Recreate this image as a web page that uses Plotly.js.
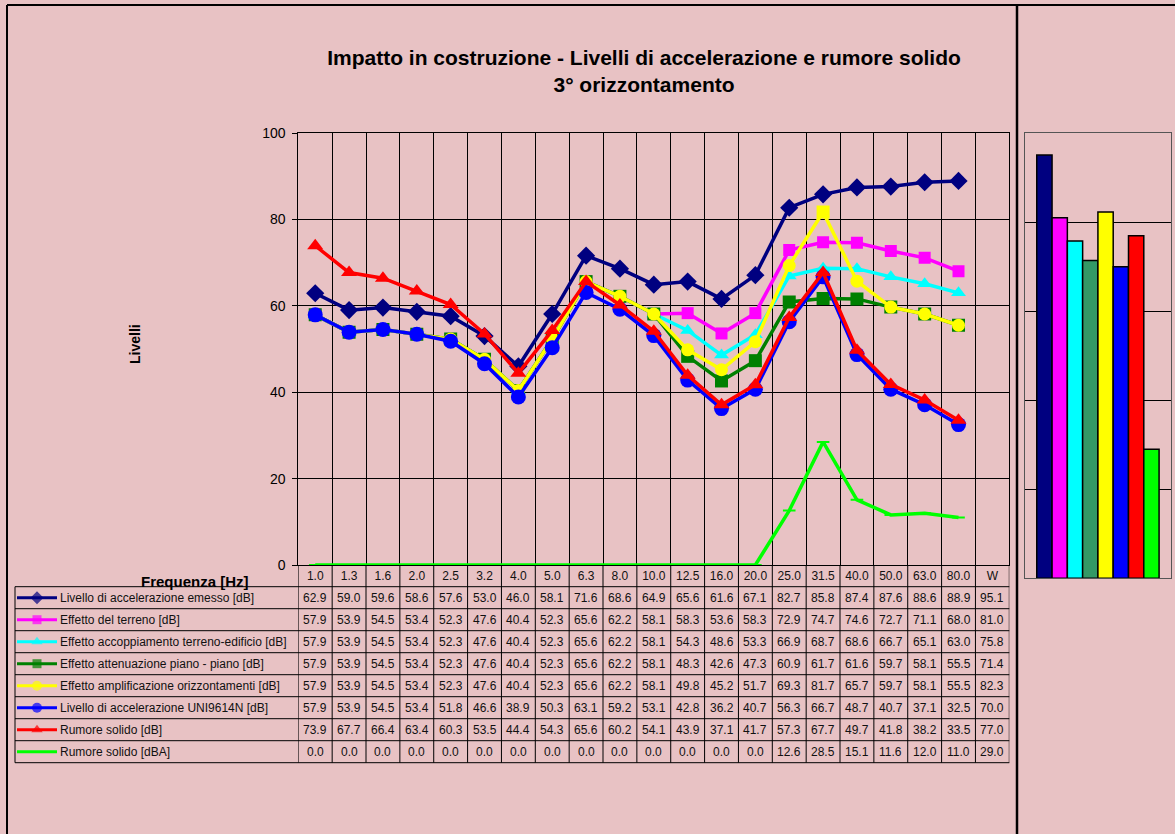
<!DOCTYPE html>
<html><head><meta charset="utf-8">
<script src="https://cdn.plot.ly/plotly-3.0.1.min.js"></script>
<style>html,body{margin:0;padding:0;background:#e8c2c4;}#chart{width:1175px;height:834px;}</style>
</head><body><div id="chart"></div>
<script>
const categories = ["1.0","1.3","1.6","2.0","2.5","3.2","4.0","5.0","6.3","8.0","10.0","12.5","16.0","20.0","25.0","31.5","40.0","50.0","63.0","80.0","W"];
const freqs = categories.slice(0, 20);
const seriesNames = [
  "Livello di accelerazione emesso [dB]",
  "Effetto del terreno [dB]",
  "Effetto accoppiamento terreno-edificio [dB]",
  "Effetto attenuazione piano - piano [dB]",
  "Effetto amplificazione orizzontamenti [dB]",
  "Livello di accelerazione UNI9614N [dB]",
  "Rumore solido [dB]",
  "Rumore solido [dBA]"
];
const emesso      = [62.9,59.0,59.6,58.6,57.6,53.0,46.0,58.1,71.6,68.6,64.9,65.6,61.6,67.1,82.7,85.8,87.4,87.6,88.6,88.9];
const terreno     = [57.9,53.9,54.5,53.4,52.3,47.6,40.4,52.3,65.6,62.2,58.1,58.3,53.6,58.3,72.9,74.7,74.6,72.7,71.1,68.0];
const accoppiam   = [57.9,53.9,54.5,53.4,52.3,47.6,40.4,52.3,65.6,62.2,58.1,54.3,48.6,53.3,66.9,68.7,68.6,66.7,65.1,63.0];
const attenuaz    = [57.9,53.9,54.5,53.4,52.3,47.6,40.4,52.3,65.6,62.2,58.1,48.3,42.6,47.3,60.9,61.7,61.6,59.7,58.1,55.5];
const amplific    = [57.9,53.9,54.5,53.4,52.3,47.6,40.4,52.3,65.6,62.2,58.1,49.8,45.2,51.7,69.3,81.7,65.7,59.7,58.1,55.5];
const uni9614     = [57.9,53.9,54.5,53.4,51.8,46.6,38.9,50.3,63.1,59.2,53.1,42.8,36.2,40.7,56.3,66.7,48.7,40.7,37.1,32.5];
const rumoreDB    = [73.9,67.7,66.4,63.4,60.3,53.5,44.4,54.3,65.6,60.2,54.1,43.9,37.1,41.7,57.3,67.7,49.7,41.8,38.2,33.5];
const rumoreDBA   = [0.0,0.0,0.0,0.0,0.0,0.0,0.0,0.0,0.0,0.0,0.0,0.0,0.0,0.0,12.6,28.5,15.1,11.6,12.0,11.0];
const totalsW     = [95.1,81.0,75.8,71.4,82.3,70.0,77.0,29.0];

const series = [emesso, terreno, accoppiam, attenuaz, amplific, uni9614, rumoreDB, rumoreDBA];
const lineColors = ["#000080","#ff00ff","#00ffff","#008000","#ffff00","#0000ff","#ff0000","#00ff00"];
const barColors  = ["#000080","#ff00ff","#00ffff","#339966","#ffff00","#0000ff","#ff0000","#00ff00"];
const symbols = ["diamond","square","triangle-up","square","circle","circle","triangle-up","line-ew"];
const sizes = [14,12,13,13,13,15,14,9];
const legSizes = [10,9,10,9,10,10,10,0];

const W = 1175, H = 834;
const px = v => v / W;
const py = v => 1 - v / H;
const FONT = "Arial, 'Liberation Sans', sans-serif";

const traces = [];
series.forEach((s, i) => {
  let sym = symbols[i];
  if (i === 4) sym = freqs.map((f, k) => k === 15 ? "square" : "circle");
  traces.push({
    type: "scatter", mode: "lines+markers",
    x: freqs, y: s, xaxis: "x", yaxis: "y", name: seriesNames[i],
    line: {color: lineColors[i], width: 3.5},
    marker: {symbol: sym, size: sizes[i], color: lineColors[i],
             line: i === 7 ? {color: lineColors[i], width: 2} : {width: 0}},
    hoverinfo: "skip", showlegend: false
  });
});
traces.push({
  type: "bar", x: totalsW.map((v, i) => i), y: totalsW, xaxis: "x2", yaxis: "y2",
  width: 1, marker: {color: barColors, line: {color: "#000", width: 1.5}},
  hoverinfo: "skip", showlegend: false
});

// table geometry
const tableTop = 586.7, rowH = 22, tableLeft = 15, tableRight = 1009.3, axisBottom = 565;
const rowCenter = r => tableTop + rowH * r + rowH / 2;

// legend samples in table (overlay axis in pixel units)
series.forEach((s, i) => {
  const yc = rowCenter(i);
  traces.push({
    type: "scatter", mode: "lines+markers", x: [17, 37, 57], y: [yc, yc, yc],
    xaxis: "x3", yaxis: "y3",
    line: {color: lineColors[i], width: 3},
    marker: {symbol: symbols[i] === "line-ew" ? "circle" : symbols[i], size: [0, legSizes[i], 0], color: lineColors[i], line: {width: 0}},
    hoverinfo: "skip", showlegend: false
  });
});

const annotations = [];
annotations.push({
  xref: "paper", yref: "paper", x: px(135), y: py(344), xanchor: "center", yanchor: "middle",
  text: "<b>Livelli</b>", textangle: -90, showarrow: false, font: {family: FONT, size: 14, color: "#000"}
});
annotations.push({
  xref: "paper", yref: "paper", x: px(195), y: py(581), xanchor: "center", yanchor: "middle",
  text: "<b>Frequenza [Hz]</b>", showarrow: false, font: {family: FONT, size: 15, color: "#000"}
});
series.forEach((s, i) => {
  annotations.push({
    xref: "paper", yref: "paper", x: px(58), y: py(rowCenter(i)), xanchor: "left", yanchor: "middle",
    text: seriesNames[i], showarrow: false, font: {family: FONT, size: 12, color: "#111"}
  });
  const rowVals = s.concat([totalsW[i]]);
  rowVals.forEach((v, c) => {
    annotations.push({
      xref: "x", yref: "paper", x: c, y: py(rowCenter(i)), xanchor: "center", yanchor: "middle",
      text: v.toFixed(1), showarrow: false, font: {family: FONT, size: 12, color: "#111"}
    });
  });
});

const shapes = [];
const ln = (x0, y0, x1, y1, w, c, xref) => ({type: "line", xref: xref || "paper", yref: "paper",
  x0: x0, y0: y0, x1: x1, y1: y1, line: {color: c || "#000", width: w || 1}});
for (let k = 0; k <= 8; k++) {
  const yy = py(tableTop + rowH * k);
  shapes.push(ln(px(tableLeft), yy, px(tableRight), yy, 1));
}
for (let i = 0; i <= categories.length; i++) {
  shapes.push(ln(i - 0.5, py(axisBottom), i - 0.5, py(tableTop + rowH * 8), 1, "#000", "x"));
}
shapes.push(ln(px(tableLeft), py(tableTop), px(tableLeft), py(tableTop + rowH * 8), 1));
// outer frame
shapes.push(ln(px(7), py(5), px(1175), py(5), 2));
shapes.push(ln(px(7), py(5), px(7), py(834), 2));
shapes.push(ln(px(1017), py(5), px(1017), py(834), 2.5));

const layout = {
  width: W, height: H, margin: {l: 0, r: 0, t: 0, b: 0},
  paper_bgcolor: "#e8c2c4", plot_bgcolor: "rgba(0,0,0,0)",
  font: {family: FONT, color: "#000"},
  title: {
    text: "<b>Impatto in costruzione - Livelli di accelerazione e rumore solido<br>3° orizzontamento</b>",
    font: {family: FONT, size: 21, color: "#000"},
    x: px(644), xanchor: "center", xref: "paper", y: py(64.5), yref: "container", yanchor: "middle"
  },
  xaxis: {
    domain: [px(298.3), px(1009.3)], anchor: "y", type: "category",
    categoryorder: "array", categoryarray: categories, range: [-0.5, 20.5],
    tickson: "boundaries", ticks: "", showgrid: true, gridcolor: "#000", gridwidth: 1,
    showline: true, linecolor: "#000", linewidth: 1, mirror: true,
    tickfont: {family: FONT, size: 12, color: "#111"}, fixedrange: true
  },
  yaxis: {
    domain: [py(565), py(133)], anchor: "x", range: [0, 100], dtick: 20,
    ticks: "outside", ticklen: 5, tickcolor: "#000", showgrid: true, gridcolor: "#000",
    showline: true, linecolor: "#000", mirror: true, zeroline: false, ticklabelstandoff: 4,
    tickfont: {family: FONT, size: 14, color: "#000"}, fixedrange: true
  },
  xaxis2: {
    domain: [px(1025), px(1171)], anchor: "y2", range: [-1.27, 8.28],
    showticklabels: false, showgrid: false, zeroline: false, ticks: "",
    showline: true, linecolor: "#555", mirror: true, fixedrange: true
  },
  yaxis2: {
    domain: [py(578.3), py(133.3)], anchor: "x2", range: [0, 100], dtick: 20,
    showticklabels: false, showgrid: true, gridcolor: "#000", zeroline: false, ticks: "",
    showline: true, linecolor: "#555", mirror: true, fixedrange: true
  },
  xaxis3: {domain: [0, 1], anchor: "y3", range: [0, W], visible: false, fixedrange: true},
  yaxis3: {domain: [0, 1], anchor: "x3", range: [H, 0], visible: false, fixedrange: true},
  annotations: annotations,
  shapes: shapes,
  showlegend: false
};

Plotly.newPlot("chart", traces, layout, {displayModeBar: false, staticPlot: true});
</script>
</body></html>
